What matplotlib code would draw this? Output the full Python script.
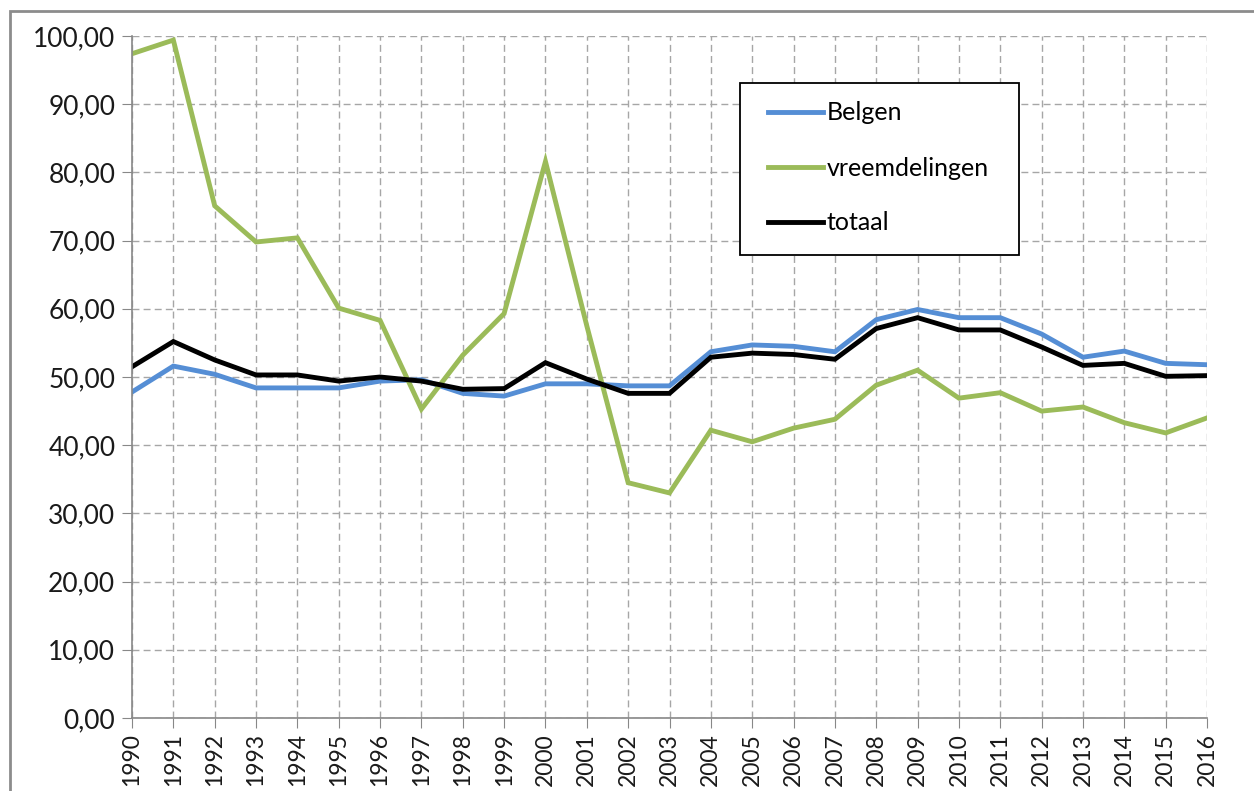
import matplotlib
matplotlib.use("Agg")
import matplotlib.pyplot as plt
from matplotlib.patches import Rectangle
from matplotlib.ticker import FuncFormatter

years = list(range(1990, 2017))
belgen = [47.8, 51.6, 50.4, 48.4, 48.4, 48.4, 49.4, 49.6, 47.6, 47.2, 49.0, 49.0, 48.7, 48.7,
          53.7, 54.7, 54.5, 53.7, 58.4, 59.9, 58.7, 58.7, 56.3, 52.9, 53.8, 52.0, 51.8]
vreemdelingen = [97.4, 99.4, 75.1, 69.8, 70.4, 60.1, 58.3, 45.3, 53.2, 59.3, 81.6, 57.5, 34.5, 33.0,
                 42.2, 40.5, 42.5, 43.8, 48.8, 51.0, 46.9, 47.7, 45.0, 45.6, 43.3, 41.8, 44.0]
totaal = [51.5, 55.2, 52.5, 50.3, 50.3, 49.4, 50.0, 49.4, 48.2, 48.3, 52.1, 49.7, 47.6, 47.6,
          52.9, 53.5, 53.3, 52.6, 57.1, 58.7, 56.9, 56.9, 54.4, 51.7, 52.0, 50.1, 50.2]
series_names = ["Belgen", "vreemdelingen", "totaal"]
y_ticks = [0, 10, 20, 30, 40, 50, 60, 70, 80, 90, 100]

plt.rcParams['font.family'] = ['Lato', 'DejaVu Sans']

W, H = 1254, 791
fig = plt.figure(figsize=(W / 100, H / 100), dpi=100)
ax = fig.add_axes([132 / W, 1 - 718 / H, (1207 - 132) / W, (718 - 36) / H])

colors = ["#558ED5", "#9BBB59", "#000000"]
for vals, name, c in zip([belgen, vreemdelingen, totaal], series_names, colors):
    ax.plot(years, vals, color=c, lw=3.5, label=name, solid_joinstyle='miter')

ax.set_xlim(1990, 2016)
ax.set_ylim(0, 100)
ax.set_xticks(years)
ax.set_xticklabels([str(y) for y in years], rotation=90, fontsize=16.5, color="#1a1a1a")
ax.set_yticks(y_ticks)
ax.yaxis.set_major_formatter(FuncFormatter(lambda v, p: f"{v:.2f}".replace(".", ",")))
ax.tick_params(axis='y', labelsize=19, labelcolor="#1a1a1a", length=7, color="#888888", pad=5)
ax.tick_params(axis='x', length=7, color="#888888", pad=4)

ax.grid(True, color="#A6A6A6", linestyle=(0, (5, 3)), linewidth=1)
ax.set_axisbelow(True)
for s in ["top", "right"]:
    ax.spines[s].set_visible(False)
for s in ["left", "bottom"]:
    ax.spines[s].set_color("#888888")
    ax.spines[s].set_linewidth(1.2)

# legend frame
frame = Rectangle((740 / W, 1 - 255 / H), (1019 - 740) / W, (255 - 83) / H,
                  transform=fig.transFigure, facecolor="white", edgecolor="black",
                  linewidth=1.3, zorder=5, clip_on=False)
ax.add_artist(frame)
leg = ax.legend(loc='center left', bbox_to_anchor=(768 / W, 1 - 168 / H),
                bbox_transform=fig.transFigure, frameon=False, fontsize=18,
                handlelength=2.2, handletextpad=0.15, labelspacing=1.28,
                borderpad=0, borderaxespad=0)
leg.set_zorder(6)

# outer chart border
fig.patches.append(Rectangle((10 / W, -0.1), 1.2, 1.1 - 11 / H, transform=fig.transFigure,
                             facecolor="none", edgecolor="#8C8C8C", linewidth=2, clip_on=False))

fig.savefig("out.png", dpi=100)
